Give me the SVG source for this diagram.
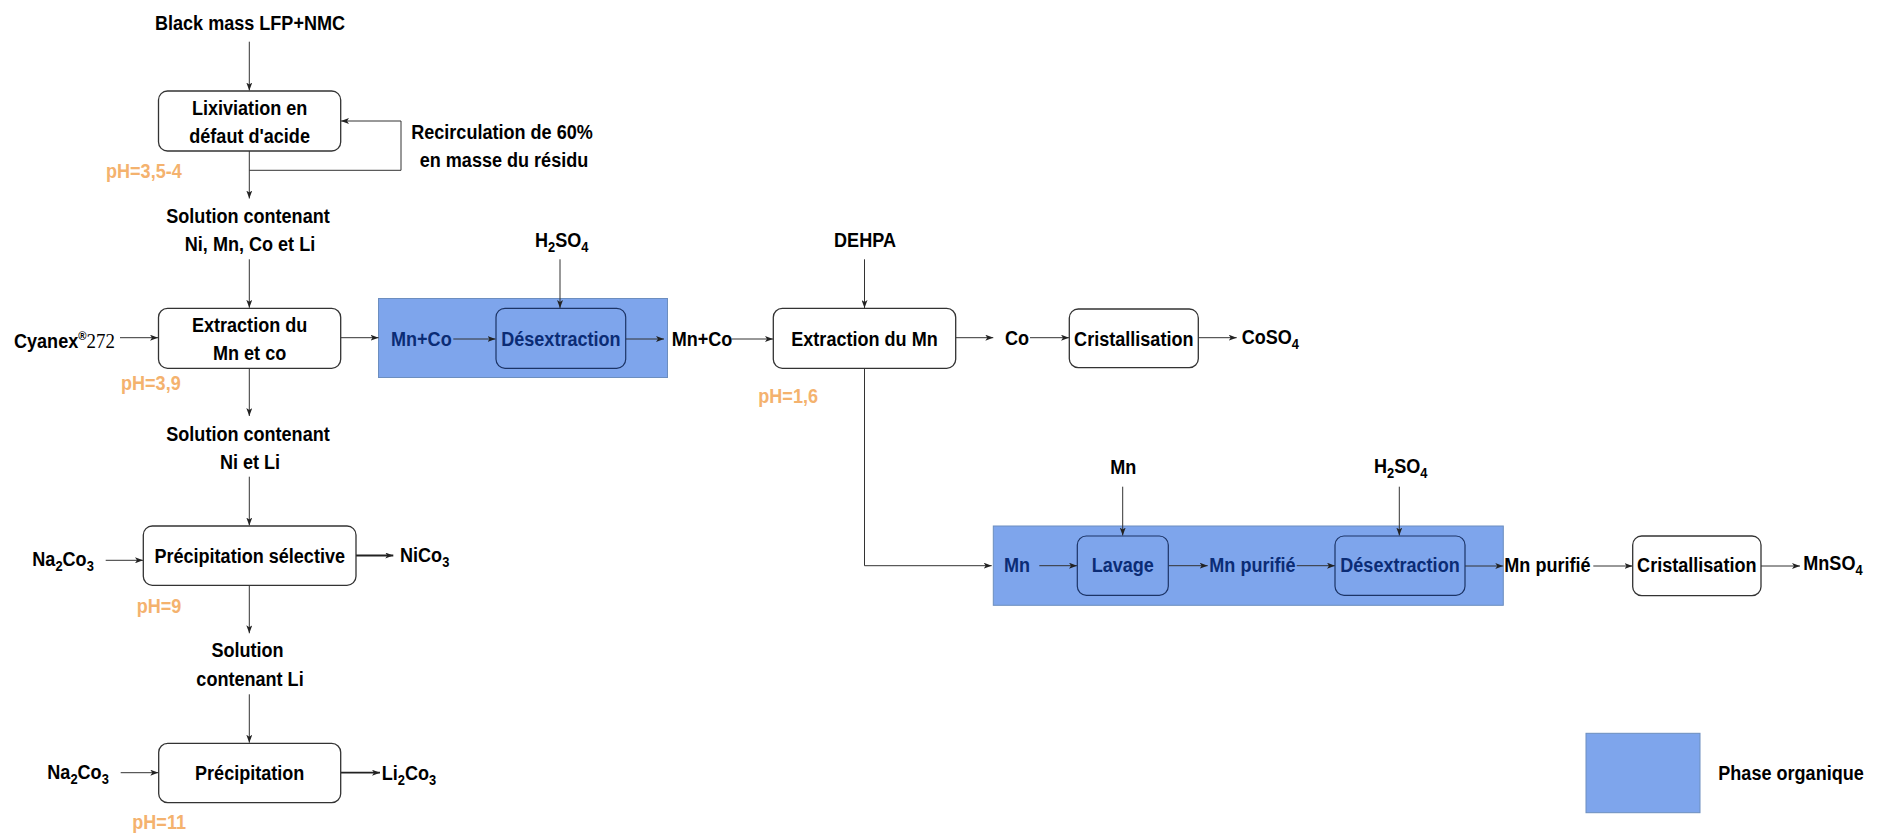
<svg xmlns="http://www.w3.org/2000/svg" width="1883" height="838" viewBox="0 0 1883 838">
<style>
.t{font-family:"Liberation Sans",Arial,sans-serif;font-size:21px;font-weight:bold;fill:#000}
.m{text-anchor:middle}
.o{fill:#F4B26E}
.n{fill:#0B2C75}
.s{font-size:15px}
.box{fill:#fff;stroke:#333;stroke-width:1.3}
.ibox{fill:#7EA5EC;stroke:#1C3466;stroke-width:1.2}
.org{fill:#7EA5EC;stroke:#6C8EBF;stroke-width:1}
.c{fill:none;stroke:#333;stroke-width:1;marker-end:url(#ah)}
.c2{fill:none;stroke:#222;stroke-width:1.8;marker-end:url(#ah)}
</style>
<defs>
<marker id="ah" viewBox="0 0 8 6" markerWidth="8" markerHeight="6" refX="8" refY="3" orient="auto" markerUnits="userSpaceOnUse">
<path d="M0,0 L8,3 L0,6 L2,3 Z" fill="#222"/>
</marker>
</defs>
<rect width="1883" height="838" fill="#fff"/>

<g id="phase1"><rect class="org" x="378.5" y="298.5" width="289" height="79"/></g>
<g id="phase2"><rect class="org" x="993.3" y="526" width="510" height="79.3"/></g>
<g id="legend"><rect class="org" x="1586" y="733.3" width="114" height="79.4"/>
<text class="t" transform="translate(1718.3,780) scale(0.86,1)">Phase organique</text></g>

<g id="connectors">
<path class="c" d="M249.3,41.7 V90.5"/>
<path class="c" d="M249.3,151 V198.5"/>
<path class="c" d="M249.3,170.3 H401 V121 H341"/>
<path class="c" d="M249.3,259.3 V307.8"/>
<path class="c" d="M120,337.7 H158"/>
<path class="c" d="M340.7,337.7 H378.5"/>
<path class="c" d="M249.3,368.3 V416"/>
<path class="c" d="M453.3,339 H495.5"/>
<path class="c" d="M560,259.3 V308"/>
<path class="c" d="M625.7,339 H664"/>
<path class="c" d="M731.5,339 H773"/>
<path class="c" d="M864.5,259.3 V308"/>
<path class="c" d="M955.7,337.7 H993.3"/>
<path class="c" d="M1030,337.7 H1069"/>
<path class="c" d="M1198.3,337.7 H1236.7"/>
<path class="c" d="M864.5,368.3 V565.7 H991.7"/>
<path class="c" d="M249.3,476.7 V525.5"/>
<path class="c" d="M105.7,560.3 H143"/>
<path class="c2" d="M356,555.5 H393.3"/>
<path class="c" d="M249.3,585.3 V633.3"/>
<path class="c" d="M249.3,694.3 V742.7"/>
<path class="c" d="M120.7,772.7 H158.3"/>
<path class="c2" d="M340.7,772.7 H380"/>
<path class="c" d="M1039.3,565.7 H1077"/>
<path class="c" d="M1122.7,486.7 V535.5"/>
<path class="c" d="M1168.3,565.7 H1207.7"/>
<path class="c" d="M1296.7,565.7 H1335"/>
<path class="c" d="M1399.3,486.7 V535.5"/>
<path class="c" d="M1465,566 H1503.3"/>
<path class="c" d="M1593.3,566 H1632.5"/>
<path class="c" d="M1761,566 H1800"/>
</g>

<g id="blackmass"><text class="t m" transform="translate(250,29.5) scale(0.86,1)">Black mass LFP+NMC</text></g>

<g id="lixiviation">
<rect class="box" x="158.5" y="91" width="182.2" height="60" rx="9"/>
<text class="t m" transform="translate(249.6,115) scale(0.86,1)">Lixiviation en</text>
<text class="t m" transform="translate(249.6,142.7) scale(0.86,1)">défaut d'acide</text>
</g>
<g id="recirculation">
<text class="t m" transform="translate(502,139.3) scale(0.86,1)">Recirculation de 60%</text>
<text class="t m" transform="translate(504,166.7) scale(0.86,1)">en masse du résidu</text>
</g>
<g id="ph1"><text class="t o" transform="translate(106,178.3) scale(0.86,1)">pH=3,5-4</text></g>

<g id="sol1">
<text class="t m" transform="translate(248,222.7) scale(0.86,1)">Solution contenant</text>
<text class="t m" transform="translate(250,250.7) scale(0.86,1)">Ni, Mn, Co et Li</text>
</g>

<g id="extraction1">
<rect class="box" x="158.5" y="308.3" width="182.2" height="60" rx="9"/>
<text class="t m" transform="translate(249.6,331.7) scale(0.86,1)">Extraction du</text>
<text class="t m" transform="translate(249.6,360) scale(0.86,1)">Mn et co</text>
</g>
<g id="cyanex"><text class="t" transform="translate(14,348.3) scale(0.86,1)">Cyanex<tspan font-size="13" dy="-8">®</tspan><tspan dy="8" style="font-family:'Liberation Serif','Times New Roman',serif;font-weight:normal;font-size:22px">272</tspan></text></g>
<g id="ph2"><text class="t o" transform="translate(121,390) scale(0.86,1)">pH=3,9</text></g>

<g id="mnco1"><text class="t n" transform="translate(391,346) scale(0.86,1)">Mn+Co</text></g>
<g id="desextraction1">
<rect class="ibox" x="496" y="308.3" width="129.7" height="60" rx="9"/>
<text class="t m n" transform="translate(560.9,346) scale(0.86,1)">Désextraction</text>
</g>
<g id="h2so4a"><text class="t m" transform="translate(561.7,246.7) scale(0.86,1)">H<tspan class="s" dy="5">2</tspan><tspan dy="-5">SO</tspan><tspan class="s" dy="5">4</tspan></text></g>
<g id="mnco2"><text class="t" transform="translate(671.7,346) scale(0.86,1)">Mn+Co</text></g>
<g id="dehpa"><text class="t m" transform="translate(865,246.7) scale(0.86,1)">DEHPA</text></g>
<g id="extraction2">
<rect class="box" x="773.3" y="308.3" width="182.4" height="60" rx="9"/>
<text class="t m" transform="translate(864.5,346) scale(0.86,1)">Extraction du Mn</text>
</g>
<g id="ph3"><text class="t o" transform="translate(758.3,402.7) scale(0.86,1)">pH=1,6</text></g>
<g id="co"><text class="t" transform="translate(1005,345) scale(0.86,1)">Co</text></g>
<g id="cristallisation1">
<rect class="box" x="1069.3" y="309" width="129" height="58.7" rx="9"/>
<text class="t m" transform="translate(1133.8,346) scale(0.86,1)">Cristallisation</text>
</g>
<g id="coso4"><text class="t" transform="translate(1241.7,343.5) scale(0.86,1)">CoSO<tspan class="s" dy="5">4</tspan></text></g>

<g id="sol2">
<text class="t m" transform="translate(248,440.7) scale(0.86,1)">Solution contenant</text>
<text class="t m" transform="translate(250,469) scale(0.86,1)">Ni et Li</text>
</g>
<g id="precipsel">
<rect class="box" x="143.3" y="526" width="212.7" height="59.3" rx="9"/>
<text class="t m" transform="translate(249.7,562.7) scale(0.86,1)">Précipitation sélective</text>
</g>
<g id="na2co3a"><text class="t" transform="translate(32.3,565.7) scale(0.86,1)">Na<tspan class="s" dy="5">2</tspan><tspan dy="-5">Co</tspan><tspan class="s" dy="5">3</tspan></text></g>
<g id="nico3"><text class="t" transform="translate(400,561.7) scale(0.86,1)">NiCo<tspan class="s" dy="5">3</tspan></text></g>
<g id="ph4"><text class="t o" transform="translate(136.7,613.3) scale(0.86,1)">pH=9</text></g>

<g id="sol3">
<text class="t m" transform="translate(247.5,657.3) scale(0.86,1)">Solution</text>
<text class="t m" transform="translate(250,685.7) scale(0.86,1)">contenant Li</text>
</g>
<g id="precip">
<rect class="box" x="158.7" y="743.3" width="182" height="59.4" rx="9"/>
<text class="t m" transform="translate(249.7,780) scale(0.86,1)">Précipitation</text>
</g>
<g id="na2co3b"><text class="t" transform="translate(47.3,779.3) scale(0.86,1)">Na<tspan class="s" dy="5">2</tspan><tspan dy="-5">Co</tspan><tspan class="s" dy="5">3</tspan></text></g>
<g id="li2co3"><text class="t" transform="translate(381.7,779.5) scale(0.86,1)">Li<tspan class="s" dy="5">2</tspan><tspan dy="-5">Co</tspan><tspan class="s" dy="5">3</tspan></text></g>
<g id="ph5"><text class="t o" transform="translate(132.3,829.3) scale(0.86,1)">pH=11</text></g>

<g id="mntop"><text class="t m" transform="translate(1123.3,474.3) scale(0.86,1)">Mn</text></g>
<g id="h2so4b"><text class="t m" transform="translate(1400.8,473.3) scale(0.86,1)">H<tspan class="s" dy="5">2</tspan><tspan dy="-5">SO</tspan><tspan class="s" dy="5">4</tspan></text></g>
<g id="mnblue"><text class="t n" transform="translate(1004,572.3) scale(0.86,1)">Mn</text></g>
<g id="lavage">
<rect class="ibox" x="1077.3" y="536" width="91" height="59.3" rx="9"/>
<text class="t m n" transform="translate(1122.8,572) scale(0.86,1)">Lavage</text>
</g>
<g id="mnpur1"><text class="t n" transform="translate(1209.3,572) scale(0.86,1)">Mn purifié</text></g>
<g id="desextraction2">
<rect class="ibox" x="1335" y="536" width="130" height="59.3" rx="9"/>
<text class="t m n" transform="translate(1400,572) scale(0.86,1)">Désextraction</text>
</g>
<g id="mnpur2"><text class="t" transform="translate(1504.3,572) scale(0.86,1)">Mn purifié</text></g>
<g id="cristallisation2">
<rect class="box" x="1632.7" y="536" width="128.3" height="59.7" rx="9"/>
<text class="t m" transform="translate(1696.8,572) scale(0.86,1)">Cristallisation</text>
</g>
<g id="mnso4"><text class="t" transform="translate(1803.3,570) scale(0.86,1)">MnSO<tspan class="s" dy="5">4</tspan></text></g>
</svg>
